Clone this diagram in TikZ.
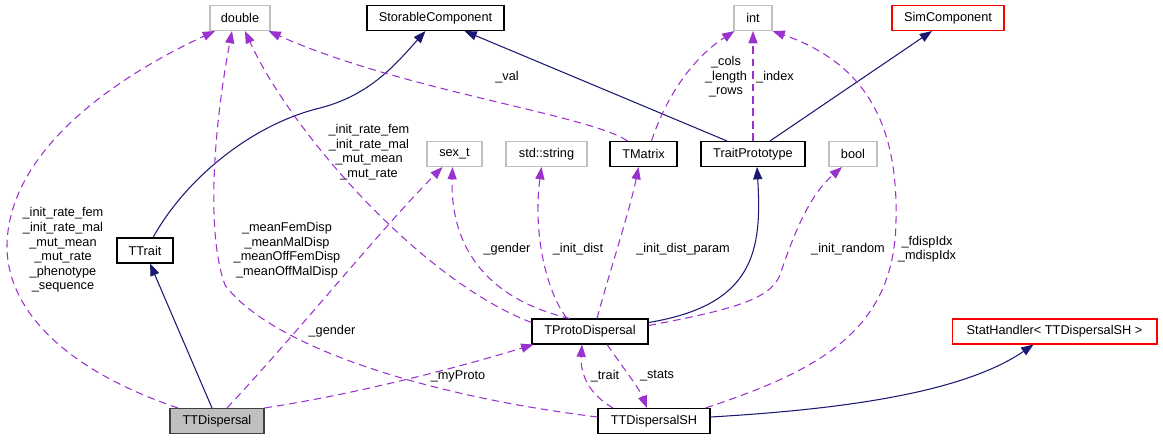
\documentclass[tikz,border=0pt]{standalone}
\usepackage{fontspec}
\setmainfont{Liberation Sans}
\usetikzlibrary{arrows.meta,calc}
\definecolor{edgenavy}{HTML}{191970}
\definecolor{edgepurple}{HTML}{9A32CD}
\definecolor{boxgray}{HTML}{BFBFBF}
\definecolor{boxred}{HTML}{FF0000}
\begin{document}
\begin{tikzpicture}[x=0.02cm,y=-0.02cm,
    font=\fontsize{7.25}{8.3}\selectfont,
    cls/.style={draw=black,line width=0.6pt,minimum height=0.5cm,inner sep=0pt},
    ext/.style={cls,draw=boxgray},
    red/.style={cls,draw=boxred},
    inh/.style={draw=edgenavy,line width=0.6pt,-{Triangle[length=7pt,width=5.2pt]}},
    use/.style={draw=edgepurple,line width=0.6pt,dash pattern=on 4.3pt off 2.8pt,-{Triangle[length=7pt,width=5.2pt]}},
    lbl/.style={align=center,inner sep=0pt}]
    \useasboundingbox (0,0) rectangle (1163,440);
    % classes
    \node[ext,minimum width=1.2cm] (dbl) at (240,18) {double};
    \node[cls,minimum width=2.74cm] (stor) at (435.5,18) {StorableComponent};
    \node[ext,minimum width=0.76cm] (int) at (753,18) {int};
    \node[red,minimum width=2.24cm] (sim) at (948,18) {SimComponent};
    \node[cls,minimum width=1.12cm] (ttrait) at (145,250.5) {TTrait};
    \node[ext,minimum width=1.1cm] (sext) at (454.5,154) {sex\_t};
    \node[ext,minimum width=1.62cm] (strg) at (546.5,154) {std::string};
    \node[cls,minimum width=1.34cm] (tmat) at (643.5,154) {TMatrix};
    \node[cls,minimum width=2.08cm] (tproto) at (753,154) {TraitPrototype};
    \node[ext,minimum width=0.96cm] (boolb) at (853,154) {bool};
    \node[cls,minimum width=2.32cm] (tpd) at (590,331.5) {TProtoDispersal};
    \node[cls,minimum width=1.88cm,draw=black!75,fill=boxgray] (ttd) at (217,421) {TTDispersal};
    \node[cls,minimum width=2.24cm] (ttdsh) at (654,421) {TTDispersalSH};
    \node[red,minimum width=4.1cm] (stat) at (1054.5,331.5) {StatHandler< TTDispersalSH >};
    % inheritance
    \draw[inh] ($(ttrait.north)+(8,0)$) .. controls (185,180) and (250,125) .. (320,108)
        .. controls (370,95) and (395,65) .. ($(stor.south)+(-10,0)$);
    \draw[inh] ($(tproto.north)+(-26,0)$) -- ($(stor.south east)+(-40,0)$);
    \draw[inh] ($(tproto.north)+(17,0)$) -- ($(sim.south)+(-16,0)$);
    \draw[inh] ($(ttd.north)+(-5,0)$) -- ($(ttrait.south)+(5,0)$);
    \draw[inh] ($(tpd.east)+(0,-9)$) .. controls (755,305) and (762,250) .. ($(tproto.south)+(4,0)$);
    \draw[inh] ($(ttdsh.east)+(0,-4)$) .. controls (830,410) and (960,395) .. ($(stat.south)+(-21,0)$);
    % members
    \draw[use] ($(ttd.north)+(-39,0)$) .. controls (80,375) and (10,320) .. (7,250)
        .. controls (5,150) and (120,75) .. ($(dbl.south)+(-25,0)$);
    \draw[use] ($(ttdsh.west)+(0,-4)$) .. controls (420,395) and (270,345) .. (225,285)
        .. controls (205,230) and (215,120) .. ($(dbl.south)+(-8,0)$);
    \draw[use] ($(tpd.west)+(0,-9)$) .. controls (420,280) and (290,130) .. ($(dbl.south)+(5,0)$);
    \draw[use] ($(tmat.north)+(-16,0)$) .. controls (590,115) and (400,90) .. ($(dbl.south east)+(-2,0)$);
    \draw[use] ($(tmat.north)+(8,0)$) .. controls (665,100) and (690,60) .. ($(int.south west)+(1,0)$);
    \draw[use] (tproto.north) -- (int.south);
    \draw[use] ($(ttdsh.north east)+(-5,0)$) .. controls (820,370) and (895,330) .. (896,220)
        .. controls (898,130) and (870,65) .. (int.south east);
    \draw[use] ($(ttd.north)+(10,0)$) .. controls (300,330) and (380,230) .. ($(sext.south)+(-12,0)$);
    \draw[use] ($(tpd.north)+(-20,0)$) .. controls (490,300) and (450,250) .. ($(sext.south)+(-2,0)$);
    \draw[use] ($(tpd.north)+(-23,0)$) .. controls (545,290) and (533,230) .. ($(strg.south)+(-5,0)$);
    \draw[use] ($(tpd.north)+(7,0)$) .. controls (610,270) and (630,210) .. ($(tmat.south)+(-5,0)$);
    \draw[use] ($(tpd.east)+(0,-6)$) .. controls (730,310) and (770,300) .. (780,275)
        .. controls (795,230) and (810,195) .. ($(boolb.south)+(-11,0)$);
    \draw[use] (ttd.north east) .. controls (350,395) and (450,370) .. ($(tpd.south west)+(2,0)$);
    \draw[use] ($(ttdsh.north)+(-41,0)$) .. controls (590,395) and (580,375) .. ($(tpd.south)+(-8,0)$);
    \draw[use] ($(tpd.south)+(17,0)$) .. controls (625,370) and (640,390) .. ($(ttdsh.north)+(-7,0)$);
    % labels
    \node[lbl] (l1) at (63,250) {\_init\_rate\_fem\\\_init\_rate\_mal\\\_mut\_mean\\\_mut\_rate\\\_phenotype\\\_sequence};
    \node[lbl] (l2) at (287,250) {\_meanFemDisp\\\_meanMalDisp\\\_meanOffFemDisp\\\_meanOffMalDisp};
    \node[lbl] (l3) at (369,152) {\_init\_rate\_fem\\\_init\_rate\_mal\\\_mut\_mean\\\_mut\_rate};
    \node[lbl] (l4) at (507,77) {\_val};
    \node[lbl] (l5) at (726,77) {\_cols\\\_length\\\_rows};
    \node[lbl] (l6) at (775,77) {\_index};
    \node[lbl] (l7) at (927,249) {\_fdispIdx\\\_mdispIdx};
    \node[lbl] (l8) at (848,249) {\_init\_random};
    \node[lbl] (l9) at (507,249) {\_gender};
    \node[lbl] (l10) at (578,249) {\_init\_dist};
    \node[lbl] (l11) at (683,249) {\_init\_dist\_param};
    \node[lbl] (l12) at (332,331) {\_gender};
    \node[lbl] (l13) at (458,376) {\_myProto};
    \node[lbl] (l14) at (605,376) {\_trait};
    \node[lbl] (l15) at (657,376) {\_stats};
\end{tikzpicture}
\end{document}
